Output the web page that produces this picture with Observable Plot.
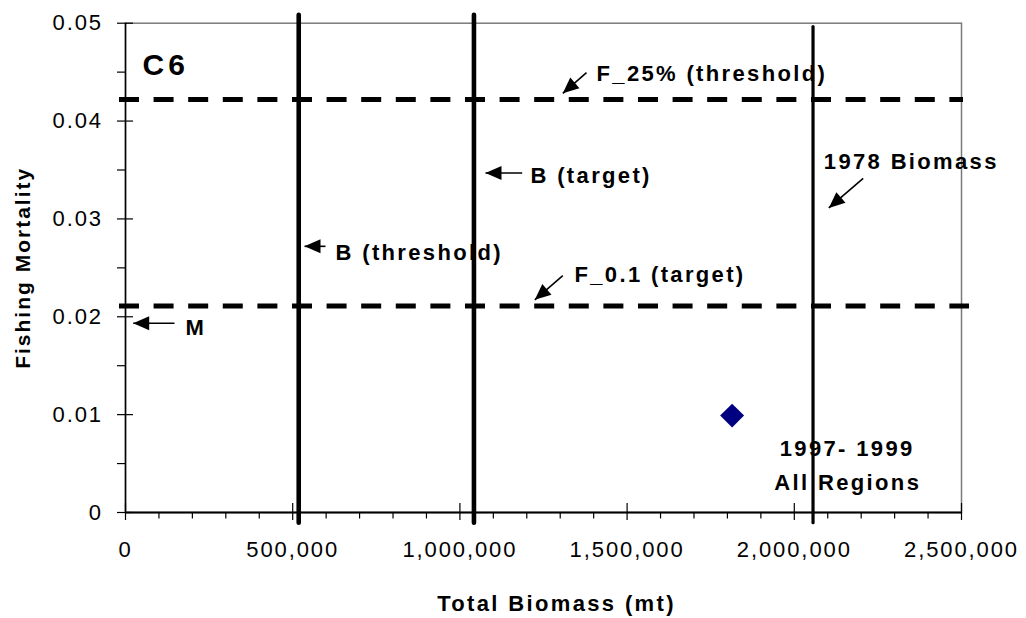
<!DOCTYPE html>
<html><head><meta charset="utf-8">
<script src="https://cdn.jsdelivr.net/npm/d3@7"></script>
<script src="https://cdn.jsdelivr.net/npm/@observablehq/plot@0.6"></script>
<style>
body{margin:0;background:#fff}
#chart svg text{letter-spacing:1.9px}
#chart svg g[font-weight="bold"][font-size="22"] text{letter-spacing:2.35px}
#chart svg g[font-weight="bold"][font-size="21"] text{letter-spacing:2px}
#chart svg g[font-size="30"] text{letter-spacing:4px}
</style></head><body><div id="chart"></div>
<script>
// ---- axis ticks ----
const xMajorTicks = [0, 500000, 1000000, 1500000, 2000000, 2500000];
const xMinorTicks = [100000, 200000, 300000, 400000, 600000, 700000, 800000, 900000,
  1100000, 1200000, 1300000, 1400000, 1600000, 1700000, 1800000, 1900000,
  2100000, 2200000, 2300000, 2400000];
const yMajorTicks = [0, 0.01, 0.02, 0.03, 0.04, 0.05];
const yMinorTicks = [0.005, 0.015, 0.025, 0.035, 0.045];

// ---- reference points (biomass, vertical lines) ----
const refBiomassNames = ["B (threshold)", "B (target)", "1978 Biomass"];
const refBiomassValues = [518000, 1042000, 2056000];
const refBiomassBottom = [-0.0011, -0.0011, -0.0011];
const refBiomassTop = [0.0508, 0.0508, 0.0496];

// ---- reference points (fishing mortality, dashed lines) ----
const refFNames = ["F_25% (threshold)", "F_0.1 (target)"];
const refFValues = [0.0422, 0.0211];
const refFStart = [-18000, -18000];
const refFEnd = [2506000, 2524000];

// ---- observed point ----
const pointBiomass = [1814000];
const pointF = [0.0099];

// ---- annotations (data coordinates) ----
const panelLabel = ["C6"];
const panelLabelX = [50800];
const panelLabelY = [0.04474];

const noteTexts = ["F_25% (threshold)", "B (target)", "1978 Biomass", "B (threshold)", "F_0.1 (target)", "M"];
const noteX = [1408500, 1211100, 2088300, 628000, 1342700, 179400];
const noteY = [0.04413, 0.03371, 0.03511, 0.02584, 0.0236, 0.01818];

const pointNoteTexts = ["1997- 1999", "All Regions"];
const pointNoteX = [2158000, 2160000];
const pointNoteY = [0.00575, 0.00225];

const arrowX1 = [1378600, 1186300, 2206000, 598100, 1307700, 146500];
const arrowY1 = [0.04494, 0.0347, 0.03415, 0.0272, 0.02421, 0.01934];
const arrowX2 = [1307700, 1076500, 2103200, 535300, 1224000, 23000];
const arrowY2 = [0.04283, 0.0347, 0.03112, 0.0272, 0.02173, 0.01934];

const xTitle = ["Total Biomass (mt)"];
const yTitle = ["Fishing Mortality"];

// ---- layout ----
const W = 1026, H = 618;
const mL = 125, mR = 65, mT = 22.7, mB = 106;
const frameH = H - mT - mB;
const frameW = W - mL - mR;
const FONT = "'Liberation Sans', Arial, Helvetica, sans-serif";

const idx = (arr) => arr.map((_, i) => i);

const plot = Plot.plot({
  width: W, height: H,
  marginLeft: mL, marginRight: mR, marginTop: mT, marginBottom: mB,
  x: {domain: [0, 2500000], label: null},
  y: {domain: [0, 0.05], label: null},
  style: {fontFamily: FONT, background: "white", color: "black", overflow: "visible"},
  marks: [
    Plot.frame({stroke: "#7a7a7a", strokeWidth: 1.5}),
    // minor ticks
    Plot.tickX(xMinorTicks, {x: d => d, insetTop: frameH, insetBottom: -6.5, stroke: "black", strokeWidth: 1.2}),
    Plot.tickY(yMinorTicks, {y: d => d, insetLeft: -8, insetRight: frameW, stroke: "black", strokeWidth: 1.2}),
    // major ticks (crossing)
    Plot.tickX(xMajorTicks, {x: d => d, insetTop: frameH - 9, insetBottom: -8, stroke: "black", strokeWidth: 1.2}),
    Plot.tickY(yMajorTicks, {y: d => d, insetLeft: -8, insetRight: frameW - 8, stroke: "black", strokeWidth: 1.2}),
    // axis lines
    Plot.ruleX([0], {stroke: "black", strokeWidth: 1.5}),
    Plot.ruleY([0], {stroke: "black", strokeWidth: 2}),
    // tick labels
    Plot.axisX(xMajorTicks, {tickSize: 0, tickPadding: 28.5, tickFormat: d3.format(","), fontSize: 22, label: null}),
    Plot.axisY(yMajorTicks, {tickSize: 0, tickPadding: 22.5, tickFormat: d => d === 0 ? "0" : d.toFixed(2), fontSize: 22, label: null}),
    // reference F (dashed)
    Plot.ruleY(idx(refFValues), {
      y: i => refFValues[i], x1: i => refFStart[i], x2: i => refFEnd[i],
      stroke: "black", strokeWidth: 5, strokeDasharray: "20,14.6"
    }),
    // reference biomass (vertical)
    Plot.ruleX(idx(refBiomassValues), {
      x: i => refBiomassValues[i], y1: i => refBiomassBottom[i], y2: i => refBiomassTop[i],
      stroke: "black", strokeWidth: i => (i < 2 ? 4.6 : 3.2), strokeLinecap: "round"
    }),
    // observed point
    Plot.dot(idx(pointBiomass), {
      x: i => pointBiomass[i], y: i => pointF[i], symbol: "diamond2", r: 10.8,
      fill: "#000080", stroke: "none"
    }),
    // arrows
    Plot.link(idx(arrowX1), {
      x1: i => arrowX1[i], y1: i => arrowY1[i], x2: i => arrowX2[i], y2: i => arrowY2[i],
      stroke: "black", strokeWidth: 1.6, markerEnd: "arrow"
    }),
    // annotations
    Plot.text(panelLabel, {
      x: (d, i) => panelLabelX[i], y: (d, i) => panelLabelY[i], text: d => d,
      textAnchor: "start", lineAnchor: "bottom", fontWeight: "bold", fontSize: 30, fill: "black"
    }),
    Plot.text(noteTexts, {
      x: (d, i) => noteX[i], y: (d, i) => noteY[i], text: d => d,
      textAnchor: "start", lineAnchor: "bottom", fontWeight: "bold", fontSize: 22, fill: "black"
    }),
    Plot.text(pointNoteTexts, {
      x: (d, i) => pointNoteX[i], y: (d, i) => pointNoteY[i], text: d => d,
      textAnchor: "middle", lineAnchor: "bottom", fontWeight: "bold", fontSize: 22, fill: "black"
    }),
    // axis titles
    Plot.text(xTitle, {
      frameAnchor: "bottom", text: d => d, dx: 13, dy: 98, textAnchor: "middle", lineAnchor: "bottom",
      fontWeight: "bold", fontSize: 22, fill: "black"
    }),
    Plot.text(yTitle, {
      frameAnchor: "left", text: d => d, rotate: -90, dx: -96, textAnchor: "middle", lineAnchor: "bottom",
      fontWeight: "bold", fontSize: 21, fill: "black"
    })
  ]
});

document.getElementById("chart").appendChild(plot);

// filled triangular arrowheads
d3.select("#chart").selectAll("marker")
  .attr("viewBox", "-17 -8 18 16")
  .attr("markerWidth", 18)
  .attr("markerHeight", 16)
  .attr("markerUnits", "userSpaceOnUse")
  .attr("fill", "black")
  .attr("stroke", "none")
  .selectAll("path")
  .attr("d", "M0,0L-16,-7L-16,7Z");
</script>
</body></html>
